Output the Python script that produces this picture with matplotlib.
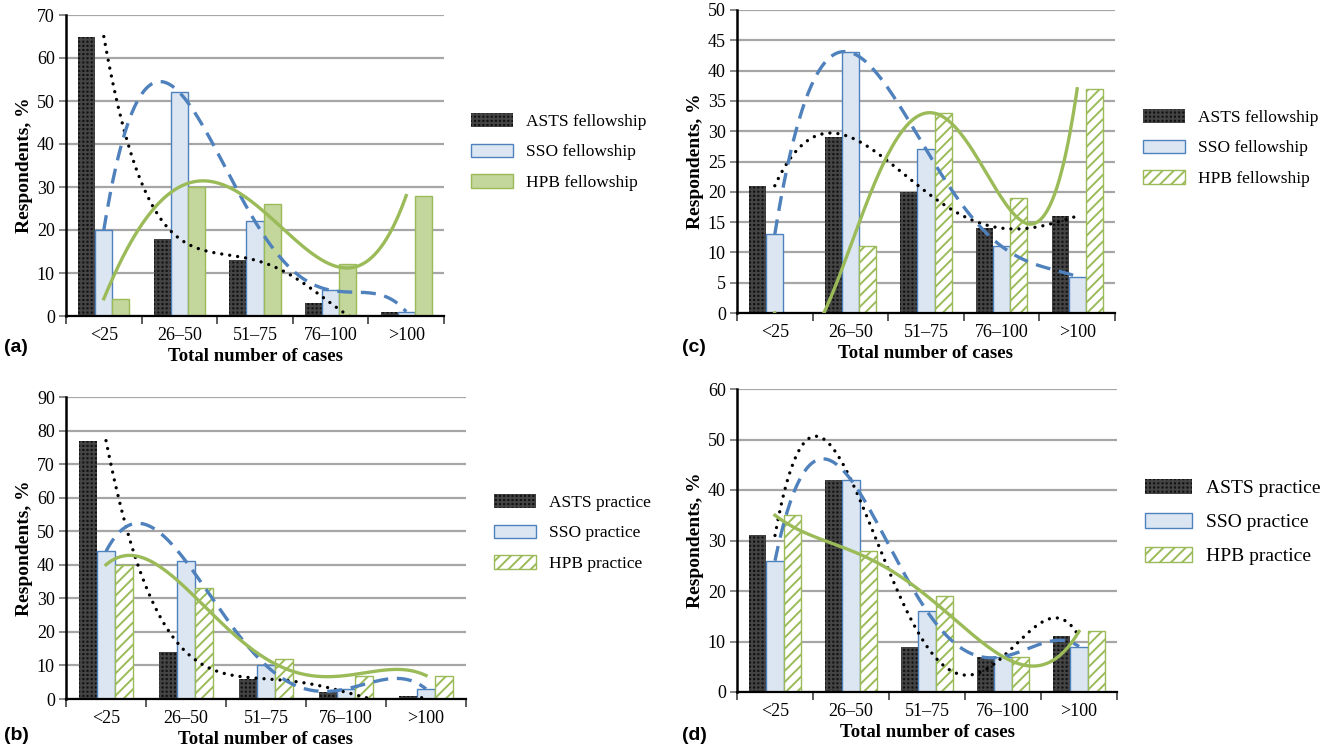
import numpy as np
import matplotlib
matplotlib.use("Agg")
import matplotlib.pyplot as plt

# ---- data ----
categories = ["<25", "26\u201350", "51\u201375", "76\u2013100", ">100"]

# (a) fellowship
a_asts = [65, 18, 13, 3, 1]
a_sso = [20, 52, 22, 6, 1]
a_hpb = [4, 30, 26, 12, 28]
# (b) practice
b_asts = [77, 14, 6, 2, 1]
b_sso = [44, 41, 10, 3, 3]
b_hpb = [40, 33, 12, 7, 7]
# (c) fellowship
c_asts = [21, 29, 20, 14, 16]
c_sso = [13, 43, 27, 11, 6]
c_hpb = [0, 11, 33, 19, 37]
# (d) practice
d_asts = [31, 42, 9, 7, 11]
d_sso = [26, 42, 16, 7, 9]
d_hpb = [35, 28, 19, 7, 12]

fellow_labels = ["ASTS fellowship", "SSO fellowship", "HPB fellowship"]
practice_labels = ["ASTS practice", "SSO practice", "HPB practice"]

W, H = 1341, 751
plt.rcParams["font.family"] = "Liberation Serif"
plt.rcParams["hatch.linewidth"] = 1.4

BLACK = "#121212"
BLUE = "#4f81bd"
LIGHTBLUE = "#dce6f2"
GREEN = "#9bbb59"
LIGHTGREEN = "#c3d69b"

fig = plt.figure(figsize=(W / 100, H / 100), dpi=100)


def px_rect(left, top, right, bottom):
    return [left / W, 1 - bottom / H, (right - left) / W, (bottom - top) / H]


def trend(ax, y, **kw):
    # Excel-style polynomial (order 4) trendline through category centres
    x = np.arange(len(y))
    coef = np.polyfit(x, y, 4)
    xs = np.linspace(0, len(y) - 1, 300)
    ax.plot(xs, np.polyval(coef, xs), zorder=4, **kw)


def draw_panel(rect, asts, sso, hpb, ymax, ystep, hatched, labels,
               leg_xy, leg_size, tag, tag_xy):
    ax = fig.add_axes(px_rect(*rect))
    x = np.arange(len(categories))
    w = 0.225
    b1 = ax.bar(x - w, asts, w, color=BLACK, edgecolor="#444444",
                hatch="++++", linewidth=0, zorder=2, label=labels[0])
    b2 = ax.bar(x, sso, w, color=LIGHTBLUE, edgecolor=BLUE,
                linewidth=1.0, zorder=2, label=labels[1])
    if hatched:
        b3 = ax.bar(x + w, hpb, w, color="white", edgecolor=GREEN,
                    hatch="///", linewidth=1.0, zorder=2, label=labels[2])
    else:
        b3 = ax.bar(x + w, hpb, w, color=LIGHTGREEN, edgecolor=GREEN,
                    linewidth=1.0, zorder=2, label=labels[2])

    trend(ax, asts, color="black", lw=2.4, linestyle=(0, (0.01, 2.4)),
          dash_capstyle="round")
    trend(ax, sso, color=BLUE, lw=2.4, linestyle=(0, (4.5, 2.6)))
    trend(ax, hpb, color=GREEN, lw=2.4)

    ax.set_xlim(-0.5, len(categories) - 0.5)
    ax.set_ylim(0, ymax)
    ax.set_yticks(np.arange(0, ymax + 0.1, ystep))
    ax.yaxis.grid(True, color="#a6a6a6", lw=1.6, zorder=0)
    ax.set_axisbelow(True)

    ax.set_xticks(x)
    ax.set_xticklabels(categories)
    ax.set_xticks(np.arange(-0.5, len(categories)), minor=True)
    ax.tick_params(axis="x", which="major", length=0, pad=8, labelsize=13)
    ax.tick_params(axis="x", which="minor", length=6, width=1.2,
                   color="#404040", direction="out")
    ax.tick_params(axis="y", length=5, width=1.3, color="#808080",
                   labelsize=13, pad=3)

    for s in ("top", "right"):
        ax.spines[s].set_visible(False)
    ax.spines["left"].set_linewidth(1.8)
    ax.spines["bottom"].set_linewidth(1.6)

    ax.set_xlabel("Total number of cases", fontsize=13.5, fontweight="bold",
                  labelpad=3)
    ax.set_ylabel("Respondents, %", fontsize=14, fontweight="bold",
                  labelpad=3)

    ax.legend(handles=[b1, b2, b3], loc="center left",
              bbox_to_anchor=(leg_xy[0] / W, 1 - leg_xy[1] / H),
              bbox_transform=fig.transFigure, frameon=False,
              fontsize=leg_size, handlelength=2.4, handleheight=0.85,
              labelspacing=0.8, handletextpad=0.75, borderpad=0,
              borderaxespad=0)

    fig.text(tag_xy[0] / W, 1 - tag_xy[1] / H, tag, family="Liberation Sans",
             fontweight="bold", fontsize=14, ha="left", va="center")
    return ax


draw_panel((66, 15, 444, 316), a_asts, a_sso, a_hpb, 70, 10, False,
           fellow_labels, (471, 152), 12.5, "(a)", (4, 347))
draw_panel((66, 397, 466, 699), b_asts, b_sso, b_hpb, 90, 10, True,
           practice_labels, (494, 533), 12.5, "(b)", (4, 735))
draw_panel((737, 10, 1115, 313), c_asts, c_sso, c_hpb, 50, 5, True,
           fellow_labels, (1143, 148), 12.5, "(c)", (682, 347))
draw_panel((737, 389, 1117, 692), d_asts, d_sso, d_hpb, 60, 10, True,
           practice_labels, (1145, 522), 14, "(d)", (682, 735))

fig.savefig("out.png", dpi=100)
